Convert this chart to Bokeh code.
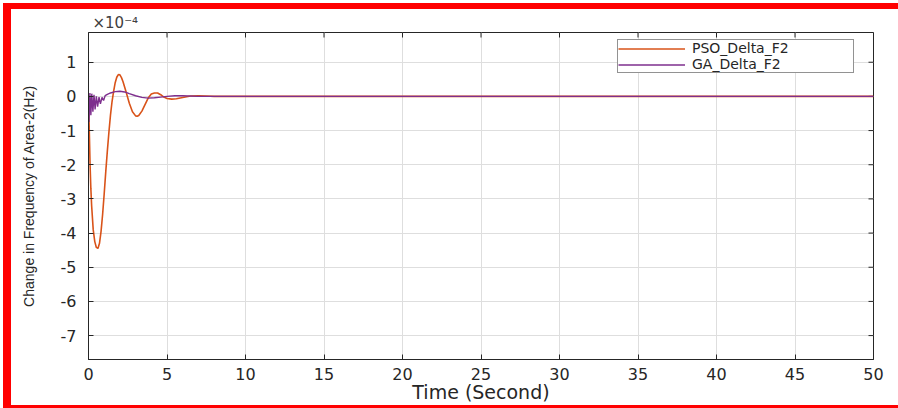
import math
from bokeh.plotting import figure
from bokeh.models import (FixedTicker, Range1d, Legend, LegendItem, InlineStyleSheet)
from bokeh.embed import file_html
from bokeh.resources import INLINE

# ---- data (values in units of 1e-4 Hz) ----
pso_t = [0, 0.05, 0.1, 0.15, 0.2, 0.3, 0.4, 0.5, 0.6, 0.7, 0.8, 0.9, 1.0, 1.1, 1.2,
         1.3, 1.4, 1.5, 1.6, 1.7, 1.8, 1.9, 2.0, 2.1, 2.2, 2.4, 2.6, 2.8, 3.0, 3.1,
         3.2, 3.4, 3.6, 3.8, 4.0, 4.2, 4.4, 4.6, 4.8, 5.0, 5.3, 5.6, 6.0, 6.5, 7.0,
         7.5, 8.0, 10, 20, 30, 40, 50]
pso_v = [0, -1.0, -2.0, -2.7, -3.2, -3.9, -4.25, -4.42, -4.45, -4.3, -3.95, -3.45,
         -2.85, -2.2, -1.6, -1.05, -0.55, -0.15, 0.15, 0.4, 0.56, 0.64, 0.63, 0.55,
         0.43, 0.12, -0.2, -0.45, -0.57, -0.58, -0.56, -0.43, -0.24, -0.05, 0.07,
         0.1, 0.1, 0.05, -0.02, -0.06, -0.08, -0.07, -0.03, 0.01, 0.02, 0.01, 0, 0,
         0, 0, 0, 0]

ga_t = [0, 0.03, 0.09, 0.15, 0.21, 0.28, 0.35, 0.42, 0.5, 0.58, 0.67, 0.76, 0.86,
        0.96, 1.06, 1.2, 1.4, 1.7, 2.0, 2.3, 2.6, 3.0, 3.4, 3.8, 4.2, 4.6, 5.0, 5.5,
        6.0, 7.0, 10, 20, 30, 40, 50]
ga_v = [0, -0.75, 0.1, -0.55, 0.08, -0.45, 0.05, -0.38, 0.0, -0.3, -0.02, -0.22,
        -0.03, -0.12, 0.02, 0.06, 0.1, 0.14, 0.15, 0.13, 0.08, 0.02, -0.03, -0.05,
        -0.04, -0.02, 0.0, 0.02, 0.02, 0.0, 0, 0, 0, 0, 0]

x_ticks = [0, 5, 10, 15, 20, 25, 30, 35, 40, 45, 50]
y_ticks = [-7, -6, -5, -4, -3, -2, -1, 0, 1]
y_tick_labels = ["-7", "-6", "-5", "-4", "-3", "-2", "-1", "0", "1"]
x_limits = (0, 50)
y_limits = (-7.7, 1.87)
series_names = ["PSO_Delta_F2", "GA_Delta_F2"]
series_colors = ["#D95319", "#7E2F8E"]

AX = "#262626"
FONT = "DejaVu Sans"

p = figure(width=898, height=408, output_backend="svg", toolbar_location=None,
           x_range=Range1d(*x_limits), y_range=Range1d(*y_limits),
           min_border_left=88, min_border_right=25, min_border_top=32,
           min_border_bottom=49)
p.background_fill_color = "white"
p.border_fill_color = "white"
p.outline_line_color = AX
p.outline_line_width = 1

for ax in (p.xaxis[0], p.yaxis[0]):
    ax.axis_line_color = AX
    ax.major_tick_line_color = AX
    ax.minor_tick_line_color = None
    ax.major_tick_in = 5
    ax.major_tick_out = 0
    ax.major_label_text_font = FONT
    ax.major_label_text_color = AX
    ax.major_label_text_font_size = "16px"
    ax.axis_label_text_font_style = "normal"
    ax.axis_label_text_color = AX

p.xaxis[0].ticker = FixedTicker(ticks=x_ticks)
p.yaxis[0].ticker = FixedTicker(ticks=y_ticks)
p.yaxis[0].major_label_overrides = {t: s for t, s in zip(y_ticks, y_tick_labels)}
p.xaxis[0].major_label_standoff = 8
p.yaxis[0].major_label_standoff = 12
p.xaxis[0].axis_label = "Time (Second)"
p.xaxis[0].axis_label_text_font = FONT
p.xaxis[0].axis_label_text_font_size = "19px"
p.xaxis[0].axis_label_standoff = -2
p.yaxis[0].axis_label = "Change in Frequency of Area-2(Hz)"
p.yaxis[0].axis_label_text_font = "Liberation Sans"
p.yaxis[0].axis_label_text_font_size = "14px"
p.yaxis[0].axis_label_standoff = 21

# exponent (MATLAB-style multiplier)
p.title.text = "\u00d710\u207b\u2074"
p.title.text_font = FONT
p.title.text_font_size = "15px"
p.title.text_font_style = "normal"
p.title.text_color = "#404040"
p.title.align = "left"
p.title.offset = 4
p.title.standoff = 2

p.xgrid.ticker = FixedTicker(ticks=x_ticks)
p.ygrid.ticker = FixedTicker(ticks=y_ticks)
p.xgrid.grid_line_color = "#dedede"
p.ygrid.grid_line_color = "#dedede"

# mirrored inward tick marks on the top and right edges (half clipped by the frame)
p.scatter(x=x_ticks, y=[y_limits[1]] * len(x_ticks), marker="dash", size=10,
          angle=math.pi / 2, line_color=AX, line_width=1)
p.scatter(x=[x_limits[1]] * len(y_ticks), y=y_ticks, marker="dash", size=10,
          line_color=AX, line_width=1)

r1 = p.line(pso_t, pso_v, line_color=series_colors[0], line_width=1.6)
r2 = p.line(ga_t, ga_v, line_color=series_colors[1], line_width=1.4)

legend = Legend(items=[LegendItem(label=series_names[0], renderers=[r1]),
                       LegendItem(label=series_names[1], renderers=[r2])],
                location=(529, 286), orientation="vertical")
legend.label_text_font = FONT
legend.label_text_font_size = "14px"
legend.label_text_color = AX
legend.glyph_width = 67
legend.glyph_height = 13
legend.label_height = 13
legend.label_width = 161
legend.label_standoff = 7
legend.spacing = 0
legend.padding = 0
legend.margin = 0
legend.border_line_color = AX
legend.border_line_width = 1
legend.background_fill_color = "white"
legend.background_fill_alpha = 1
p.add_layout(legend, "center")

# red frame of the original picture (left, top, bottom)
p.stylesheets = [InlineStyleSheet(css="""
:host { position: relative; }
:host::after {
  content: ""; position: absolute; left: 3px; top: 3px; right: 0; bottom: 0;
  border-left: 8px solid #ff0000; border-top: 6px solid #ff0000;
  border-bottom: 3px solid #ff0000; box-sizing: border-box;
  pointer-events: none; z-index: 10;
}
""")]

open("out.html", "w").write(file_html(p, INLINE))
